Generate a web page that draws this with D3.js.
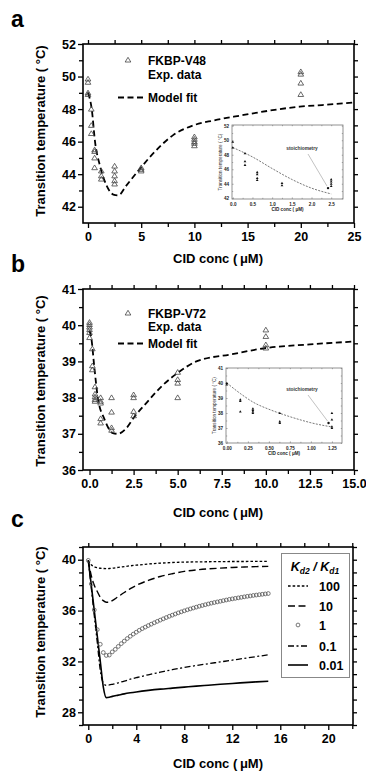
<!DOCTYPE html>
<html>
<head>
<meta charset="utf-8">
<script src="https://cdn.jsdelivr.net/npm/d3@7"></script>
<style>
  body { margin: 0; background: #fff; }
  svg { display: block; }
</style>
</head>
<body>
<svg id="fig" width="366" height="771"></svg>
<script>
// ---- panel a : FKBP-V48 ----
const aConc = [0, 0.31, 0.62, 1.25, 2.5, 5, 10, 20];
const aTemps = [[49.85, 49.65, 49.0, 48.9], [48.0, 47.0, 46.5], [45.5, 45.4, 45.0, 44.4], [44.2, 43.9, 43.7],
  [44.5, 44.2, 43.9, 43.6, 43.4], [44.4, 44.3, 44.2], [46.3, 46.15, 46.0, 45.9, 45.75], [50.3, 50.15, 49.6, 48.9]];
const aFitConc = [0, 0.35, 0.66, 1.13, 1.75, 2.38, 2.85, 3.6, 4.9, 6.45, 8, 9.9, 11.8, 14.3, 17, 19.9, 22, 25];
const aFitTemp = [49.0, 48.0, 46.0, 44.5, 43.3, 42.75, 42.7, 43.3, 44.35, 45.5, 46.4, 47.0, 47.3, 47.6, 47.9, 48.15, 48.25, 48.4];
const aXTicks = [0, 5, 10, 15, 20, 25];
const aYTicks = [42, 44, 46, 48, 50, 52];
// inset a
const aInConc = [0, 0.31, 0.62, 1.25, 2.5];
const aInTemps = [[49.8, 49.0], [48.2, 47.1, 46.6], [45.6, 45.3, 44.8, 44.5], [44.1, 43.8], [44.6, 44.3, 44.0, 43.7]];
const aInFitConc = [0, 0.5, 1.0, 1.5, 2.0, 2.5];
const aInFitTemp = [49.0, 47.7, 46.1, 44.6, 43.4, 42.6];
const aStoich = [2.42, 43.4];
const aInXTicks = [0, 0.5, 1.0, 1.5, 2.0, 2.5];
const aInYTicks = [42, 44, 46, 48, 50, 52];

// ---- panel b : FKBP-V72 ----
const bConc = [0, 0.16, 0.31, 0.63, 1.25, 2.5, 5, 10];
const bTemps = [[40.08, 40.02, 39.95, 39.88, 39.8, 39.66], [39.35, 38.88, 38.77], [38.3, 38.1, 38.02, 37.95, 37.9],
  [38.0, 37.9, 37.85, 37.42, 37.3], [38.0, 37.6, 37.17, 37.1], [38.08, 38.0, 37.62, 37.5], [38.7, 38.5, 38.4, 38.0],
  [39.87, 39.69, 39.46, 39.37]];
const bFitConc = [0, 0.1, 0.28, 0.47, 0.85, 1.32, 1.6, 2.08, 2.56, 3.22, 4.17, 5, 6.06, 8.1, 10, 12.5, 15];
const bFitTemp = [39.85, 39.65, 38.8, 38.0, 37.4, 37.02, 37.0, 37.15, 37.48, 37.85, 38.35, 38.68, 39.0, 39.2, 39.37, 39.47, 39.55];
const bXTicks = [0, 2.5, 5, 7.5, 10, 12.5, 15];
const bYTicks = [36, 37, 38, 39, 40, 41];
// inset b
const bInConc = [0, 0.16, 0.31, 0.63, 1.25];
const bInTemps = [[40.0, 39.9], [38.9, 38.8, 38.1], [38.3, 38.2, 38.1, 38.0], [38.0, 37.44, 37.33], [38.0, 37.56, 37.1, 37.0]];
const bInFitConc = [0, 0.16, 0.32, 0.5, 0.63, 0.87, 1.0, 1.25];
const bInFitTemp = [40.0, 39.3, 38.7, 38.25, 37.98, 37.55, 37.35, 37.07];
const bStoich = [1.21, 37.33];
const bInXTicks = [0, 0.25, 0.5, 0.75, 1.0, 1.25];
const bInYTicks = [36, 37, 38, 39, 40, 41];

// ---- panel c : simulated Kd2/Kd1 ----
const cLineConc = [0, 0.25, 0.5, 0.75, 1.0, 1.25, 1.5, 1.75, 2.0, 2.5, 3.0, 3.5, 4.0, 5.0, 6.0, 7.0, 8.0, 9.0, 10.0, 11.0, 12.0, 13.0, 14.0, 15.0];
const cRatio100 = [39.95, 39.6, 39.45, 39.37, 39.33, 39.31, 39.3, 39.31, 39.33, 39.4, 39.46, 39.52, 39.57, 39.66, 39.73, 39.78, 39.81, 39.83, 39.84, 39.85, 39.86, 39.86, 39.87, 39.87];
const cRatio10 = [39.95, 38.75, 38.0, 37.5, 37.05, 36.78, 36.65, 36.66, 36.78, 37.1, 37.42, 37.72, 37.98, 38.37, 38.68, 38.9, 39.08, 39.2, 39.28, 39.34, 39.39, 39.43, 39.46, 39.48];
const cRatio01 = [39.95, 37.8, 35.6, 33.5, 31.3, 30.3, 30.12, 30.15, 30.2, 30.32, 30.45, 30.6, 30.72, 30.95, 31.15, 31.35, 31.52, 31.68, 31.82, 31.96, 32.1, 32.24, 32.38, 32.52];
const cRatio001 = [39.95, 38.0, 36.0, 34.0, 32.0, 30.0, 29.15, 29.18, 29.25, 29.35, 29.45, 29.53, 29.6, 29.72, 29.82, 29.9, 29.98, 30.06, 30.13, 30.2, 30.27, 30.33, 30.39, 30.44];
const cCircleConc = [0, 0.25, 0.5, 0.75, 1, 1.25, 1.5, 1.75, 2, 2.25, 2.5, 2.75, 3, 3.25, 3.5, 3.75, 4, 4.25, 4.5, 4.75,
  5, 5.25, 5.5, 5.75, 6, 6.25, 6.5, 6.75, 7, 7.25, 7.5, 7.75, 8, 8.25, 8.5, 8.75, 9, 9.25, 9.5, 9.75,
  10, 10.25, 10.5, 10.75, 11, 11.25, 11.5, 11.75, 12, 12.25, 12.5, 12.75, 13, 13.25, 13.5, 13.75, 14, 14.25, 14.5, 14.75, 15];
const cRatio1 = [39.95, 38.1, 36.05, 34.5, 33.35, 32.7, 32.47, 32.5, 32.75, 32.95, 33.18, 33.4, 33.6, 33.8, 33.98, 34.15, 34.3, 34.45, 34.58, 34.7,
  34.82, 34.93, 35.04, 35.15, 35.25, 35.35, 35.45, 35.55, 35.64, 35.73, 35.82, 35.9, 35.98, 36.06, 36.13, 36.2, 36.27, 36.34, 36.4, 36.46,
  36.52, 36.58, 36.63, 36.68, 36.73, 36.78, 36.83, 36.88, 36.92, 36.96, 37.0, 37.04, 37.08, 37.12, 37.15, 37.19, 37.22, 37.25, 37.28, 37.31, 37.34];
const cLegendLabels = ['100', '10', '1', '0.1', '0.01'];
const cXTicks = [0, 4, 8, 12, 16, 20];
const cYTicks = [28, 32, 36, 40];

const FONT = 'Arial, "Liberation Sans", sans-serif';
const svg = d3.select('#fig').attr('font-family', FONT);

// small open triangle used as marker
const tri = s => `M0,${-s}L${s * 1.05},${s * 0.75}L${-s * 1.05},${s * 0.75}Z`;

function pairs(conc, temps) {
  return conc.flatMap((c, i) => temps[i].map(t => [c, t]));
}

// ticks on all four sides, frame, labels
function frame(g, x, y, o) {
  const [xl, xr] = x.range();
  const [yb, yt] = y.range();
  const put = (axis, tr) => {
    const a = g.append('g').attr('transform', tr).call(axis);
    a.select('.domain').remove();
    a.attr('font-family', FONT).attr('font-size', o.font).attr('font-weight', 'bold');
    a.selectAll('line').attr('stroke', o.color).attr('stroke-width', o.tw);
    a.selectAll('text').attr('fill', o.textColor || '#000');
    return a;
  };
  put(d3.axisBottom(x).tickValues(o.xMajor).tickSize(o.tick).tickPadding(o.xpad).tickFormat(o.xFmt), `translate(0,${yb})`);
  put(d3.axisBottom(x).tickValues(o.xMinor).tickSize(o.minor).tickFormat(''), `translate(0,${yb})`);
  put(d3.axisTop(x).tickValues(o.xMajor.concat(o.xMinor)).tickSize(o.minor).tickFormat(''), `translate(0,${yt})`);
  put(d3.axisLeft(y).tickValues(o.yMajor).tickSize(o.tick).tickPadding(o.ypad).tickFormat(o.yFmt), `translate(${xl},0)`);
  put(d3.axisLeft(y).tickValues(o.yMinor).tickSize(o.minor).tickFormat(''), `translate(${xl},0)`);
  put(d3.axisRight(y).tickValues(o.yMajor.concat(o.yMinor)).tickSize(o.minor).tickFormat(''), `translate(${xr},0)`);
  g.append('rect')
    .attr('x', xl).attr('y', yt).attr('width', xr - xl).attr('height', yb - yt)
    .attr('fill', 'none').attr('stroke', o.color).attr('stroke-width', o.fw);
}

function mainTitles(g, x, y, o) {
  const [yb] = y.range();
  g.append('text').attr('x', 218).attr('y', yb + o.xTitleDy)
    .attr('text-anchor', 'middle').attr('font-size', 13).attr('font-weight', 'bold')
    .text('CID conc (\u2009\u03bcM)');
  g.append('text').attr('transform', `translate(45,${o.yTitleCy}) rotate(-90)`)
    .attr('text-anchor', 'middle').attr('font-size', 13).attr('font-weight', 'bold')
    .text('Transition temperature ( \u00b0C)');
  g.append('text').attr('x', 11).attr('y', o.letterY)
    .attr('font-size', 23).attr('font-weight', 'bold').text(o.letter);
}

function majorMinor(ticks, step) {
  return ticks.slice(0, -1).map((t, i) => (t + ticks[i + 1]) / 2).concat(step ? [ticks[ticks.length - 1] + step] : []);
}

const lineFit = (x, y) => d3.line().x(d => x(d[0])).y(d => y(d[1])).curve(d3.curveMonotoneX);

function dataPanel(p) {
  const g = svg.append('g');
  const x = d3.scaleLinear().domain(p.xDomain).range([83, 354]);
  const y = d3.scaleLinear().domain(p.yDomain).range([p.bottom, p.top]);
  frame(g, x, y, {
    xMajor: p.xTicks, xMinor: majorMinor(p.xTicks), yMajor: p.yTicks, yMinor: majorMinor(p.yTicks),
    xFmt: p.xFmt, yFmt: d3.format('d'), font: 12.5, tick: 5, minor: 4, xpad: 4, ypad: 2,
    color: '#000', tw: 1.3, fw: 1.6
  });
  mainTitles(g, x, y, p);

  // fit curve
  g.append('path').datum(p.fitConc.map((c, i) => [c, p.fitTemp[i]]))
    .attr('d', lineFit(x, y)).attr('fill', 'none').attr('stroke', '#000')
    .attr('stroke-width', 1.8).attr('stroke-dasharray', '6,3.5');
  // experimental triangles
  g.selectAll('.pt').data(pairs(p.conc, p.temps)).join('path')
    .attr('transform', d => `translate(${x(d[0])},${y(d[1])})`)
    .attr('d', tri(2.7)).attr('fill', 'none').attr('stroke', '#444').attr('stroke-width', 0.8);

  // legend
  const lx = 128, ly = p.top + p.legDy;
  g.append('path').attr('transform', `translate(${lx},${ly})`).attr('d', tri(2.7))
    .attr('fill', 'none').attr('stroke', '#444').attr('stroke-width', 0.8);
  const lt = g.append('g').attr('font-size', 12).attr('font-weight', 'bold');
  lt.append('text').attr('x', 148).attr('y', ly + 4.5).text(p.name);
  lt.append('text').attr('x', 148).attr('y', ly + 4.5 + p.legGap).text('Exp. data');
  g.append('line').attr('x1', 118).attr('x2', 145).attr('y1', p.top + p.dashDy).attr('y2', p.top + p.dashDy)
    .attr('stroke', '#000').attr('stroke-width', 1.8).attr('stroke-dasharray', '6,3.5');
  lt.append('text').attr('x', 148).attr('y', p.top + p.dashDy + 4.5).text('Model fit');

  // inset
  const ins = p.inset;
  const ig = svg.append('g');
  const ix = d3.scaleLinear().domain(ins.xDomain).range([ins.left, ins.right]);
  const iy = d3.scaleLinear().domain(ins.yDomain).range([ins.bottom, ins.top]);
  ig.append('rect').attr('x', ins.left).attr('y', ins.top).attr('width', ins.right - ins.left)
    .attr('height', ins.bottom - ins.top).attr('fill', '#fff');
  frame(ig, ix, iy, {
    xMajor: ins.xTicks, xMinor: majorMinor(ins.xTicks), yMajor: ins.yTicks, yMinor: majorMinor(ins.yTicks),
    xFmt: ins.xFmt, yFmt: d3.format('d'), font: 4.6, tick: -1.6, minor: -1.2, xpad: 3.5, ypad: 3,
    color: '#777', tw: 0.6, fw: 0.8, textColor: '#222'
  });
  ig.append('text').attr('x', (ins.left + ins.right) / 2).attr('y', ins.bottom + 12)
    .attr('text-anchor', 'middle').attr('font-size', 4.6).attr('font-weight', 'bold').attr('fill', '#222')
    .text('CID conc (  \u03bcM)');
  ig.append('text').attr('transform', `translate(${ins.left - 10},${(ins.top + ins.bottom) / 2}) rotate(-90)`)
    .attr('text-anchor', 'middle').attr('font-size', 4.6).attr('fill', '#222')
    .text('Transition temperature (  \u00b0C)');
  ig.append('path').datum(ins.fitConc.map((c, i) => [c, ins.fitTemp[i]]))
    .attr('d', lineFit(ix, iy)).attr('fill', 'none').attr('stroke', '#555')
    .attr('stroke-width', 0.8).attr('stroke-dasharray', '2,1.3');
  ig.selectAll('.ip').data(pairs(ins.conc, ins.temps)).join('path')
    .attr('transform', d => `translate(${ix(d[0])},${iy(d[1])})`)
    .attr('d', tri(1.3)).attr('fill', '#111');
  ig.append('circle').attr('cx', ix(ins.stoich[0])).attr('cy', iy(ins.stoich[1])).attr('r', 1.2).attr('fill', '#111');
  ig.append('line').attr('x1', ins.labX + 6).attr('y1', ins.labY + 4)
    .attr('x2', ix(ins.stoich[0]) - 1).attr('y2', iy(ins.stoich[1]) - 2)
    .attr('stroke', '#999').attr('stroke-width', 0.6);
  ig.append('text').attr('x', ins.labX).attr('y', ins.labY).attr('text-anchor', 'middle')
    .attr('font-size', 4.8).attr('font-weight', 'bold').attr('fill', '#333').text('stoichiometry');
}

dataPanel({
  letter: 'a', letterY: 27, name: 'FKBP-V48', top: 44, bottom: 223,
  xDomain: [-0.47, 25], yDomain: [41, 52], xTicks: aXTicks, yTicks: aYTicks, xFmt: d3.format('d'),
  conc: aConc, temps: aTemps, fitConc: aFitConc, fitTemp: aFitTemp,
  xTitleDy: 40, yTitleCy: 131, legDy: 16, legGap: 14, dashDy: 53.5,
  inset: {
    left: 232, right: 343, top: 125, bottom: 199, xDomain: [-0.02, 2.8], yDomain: [41.9, 52.1],
    xTicks: aInXTicks, yTicks: aInYTicks, xFmt: d3.format('.1f'),
    conc: aInConc, temps: aInTemps, fitConc: aInFitConc, fitTemp: aInFitTemp, stoich: aStoich,
    labX: 302, labY: 150
  }
});

dataPanel({
  letter: 'b', letterY: 272, name: 'FKBP-V72', top: 289, bottom: 470,
  xDomain: [-0.37, 15], yDomain: [36, 41], xTicks: bXTicks, yTicks: bYTicks, xFmt: d3.format('.1f'),
  conc: bConc, temps: bTemps, fitConc: bFitConc, fitTemp: bFitTemp,
  xTitleDy: 47, yTitleCy: 381, legDy: 24, legGap: 13.5, dashDy: 54.5,
  inset: {
    left: 226, right: 342, top: 368, bottom: 443, xDomain: [-0.01, 1.37], yDomain: [36, 41],
    xTicks: bInXTicks, yTicks: bInYTicks, xFmt: d3.format('.2f'),
    conc: bInConc, temps: bInTemps, fitConc: bInFitConc, fitTemp: bInFitTemp, stoich: bStoich,
    labX: 302, labY: 391
  }
});

// ---- panel c ----
(function () {
  const g = svg.append('g');
  const x = d3.scaleLinear().domain([-0.44, 22.06]).range([83, 353]);
  const y = d3.scaleLinear().domain([27, 41]).range([725, 547]);
  frame(g, x, y, {
    xMajor: cXTicks, xMinor: majorMinor(cXTicks, 2), yMajor: cYTicks,
    yMinor: d3.range(27, 42).filter(v => !cYTicks.includes(v)),
    xFmt: d3.format('d'), yFmt: d3.format('d'), font: 12.5, tick: 5, minor: 4, xpad: 4, ypad: 2,
    color: '#000', tw: 1.3, fw: 1.6
  });
  mainTitles(g, x, y, { xTitleDy: 43, yTitleCy: 632, letter: 'c', letterY: 527 });

  const styles = [
    { data: cRatio100, dash: '2.6,2', w: 1.3 },
    { data: cRatio10, dash: '7,3.5', w: 1.4 },
    null,
    { data: cRatio01, dash: '6,2.5,2,2.5', w: 1.3 },
    { data: cRatio001, dash: null, w: 1.6 }
  ];
  styles.forEach(s => {
    if (!s) return;
    g.append('path').datum(cLineConc.map((c, i) => [c, s.data[i]]))
      .attr('d', lineFit(x, y)).attr('fill', 'none').attr('stroke', '#000')
      .attr('stroke-width', s.w).attr('stroke-dasharray', s.dash);
  });
  g.selectAll('.cc').data(cCircleConc.map((c, i) => [c, cRatio1[i]])).join('circle')
    .attr('cx', d => x(d[0])).attr('cy', d => y(d[1])).attr('r', 1.9)
    .attr('fill', 'none').attr('stroke', '#555').attr('stroke-width', 0.8);

  // legend box
  const lg = g.append('g');
  lg.append('rect').attr('x', 281.5).attr('y', 553.5).attr('width', 68).attr('height', 124)
    .attr('fill', '#fff').attr('stroke', '#888').attr('stroke-width', 1);
  const t = lg.append('text').attr('x', 315).attr('y', 571).attr('text-anchor', 'middle')
    .attr('font-size', 12.5).attr('font-weight', 'bold').attr('font-style', 'italic');
  t.append('tspan').text('K');
  t.append('tspan').attr('font-size', 8.5).attr('dy', 3).text('d2');
  t.append('tspan').attr('dy', -3).text(' / K');
  t.append('tspan').attr('font-size', 8.5).attr('dy', 3).text('d1');
  const rows = [586, 606, 625, 646, 665];
  cLegendLabels.forEach((lab, i) => {
    const ry = rows[i];
    if (styles[i]) {
      lg.append('line').attr('x1', 288).attr('x2', 308).attr('y1', ry).attr('y2', ry)
        .attr('stroke', '#000').attr('stroke-width', styles[i].w).attr('stroke-dasharray', styles[i].dash);
    } else {
      lg.append('circle').attr('cx', 298).attr('cy', ry).attr('r', 1.9)
        .attr('fill', 'none').attr('stroke', '#555').attr('stroke-width', 0.8);
    }
    lg.append('text').attr('x', 319).attr('y', ry + 4.5).attr('font-size', 12.5).attr('font-weight', 'bold').text(lab);
  });
})();
</script>
</body>
</html>
